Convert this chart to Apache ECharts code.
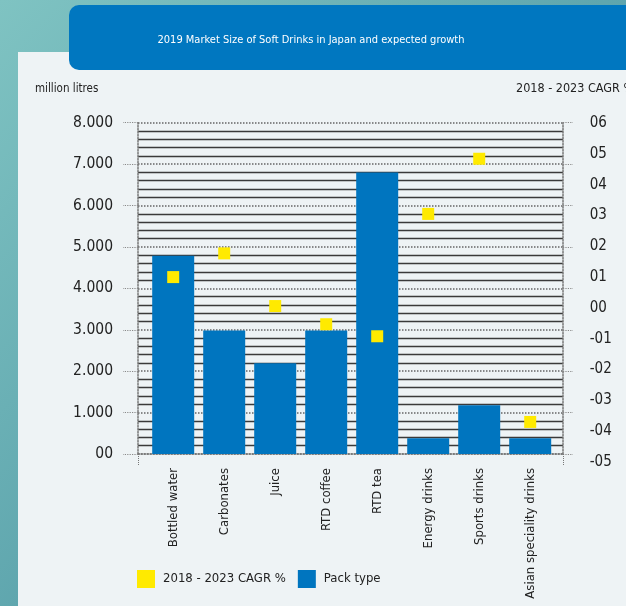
<!DOCTYPE html>
<html><head><meta charset="utf-8">
<script src="https://cdn.jsdelivr.net/npm/echarts@6/dist/echarts.min.js"></script>
<style>html,body{margin:0;padding:0;background:#eef3f5}#c{width:626px;height:606px}</style>
</head><body><div id="c"></div>
<script>
const categories = ['Bottled water','Carbonates','Juice','RTD coffee','RTD tea','Energy drinks','Sports drinks','Asian speciality drinks'];
const packType = [4790, 2980, 2190, 2980, 6800, 380, 1180, 380];
const cagr = [1.0, 1.77, 0.06, -0.53, -0.92, 3.05, 4.84, -3.70];
const leftTicks = [0, 1000, 2000, 3000, 4000, 5000, 6000, 7000, 8000];
const rightTicks = [-5, -4, -3, -2, -1, 0, 1, 2, 3, 4, 5, 6];

const FONT = '"Liberation Sans Narrow","DejaVu Sans Condensed","Roboto Condensed","Liberation Sans",sans-serif';
const chart = echarts.init(document.getElementById('c'), null, {renderer:'canvas'});
const TOP = 122.7, H = 331.3;
chart.setOption({
  animation:false,
  backgroundColor:'#eef3f5',
  textStyle:{fontFamily:FONT},
  graphic:[
    {type:'rect', z:-10, shape:{x:0,y:0,width:626,height:606}, style:{fill:new echarts.graphic.LinearGradient(0,0,1,1,[{offset:0,color:'#7fc3c2'},{offset:0.5,color:'#5fa6ae'},{offset:1,color:'#4f8fa0'}])}},
    {type:'rect', z:-9, shape:{x:18,y:52,width:620,height:560}, style:{fill:'#eef3f5'}},
    {type:'rect', z:-8, shape:{x:69,y:5,width:600,height:65,r:10}, style:{fill:'#0077c0'}},
    {type:'text', z:5, x:311, y:40, style:{text:'2019 Market Size of Soft Drinks in Japan and expected growth', fill:'#ffffff', font:'11px '+FONT, align:'center', verticalAlign:'middle'}},
    {type:'text', z:5, x:35, y:89, style:{text:'million litres', fill:'#222', font:'11.5px '+FONT, verticalAlign:'middle'}},
    {type:'text', z:5, x:516, y:89, style:{text:'2018 - 2023 CAGR %', fill:'#222', font:'12.5px '+FONT, verticalAlign:'middle'}}
  ],
  legend:{
    data:['2018 - 2023 CAGR %','Pack type'], left:132, top:565, itemWidth:18, itemHeight:18, itemGap:12,
    icon:'rect', textStyle:{fontFamily:FONT, fontSize:13, color:'#222', padding:[0,0,0,3]}
  },
  grid:[
    {left:138, top:TOP, width:425, height:H, outerBoundsMode:'none', containLabel:false},
    {left:147.7, top:TOP, width:408, height:H, outerBoundsMode:'none', containLabel:false},
    {left:147.7, top:123, width:408, height:339, outerBoundsMode:'none', containLabel:false}
  ],
  xAxis:[
    {gridIndex:0, type:'value', min:0, max:1, interval:1,
     axisLine:{show:true, lineStyle:{color:'#777', type:'dotted', width:1.5}},
     axisTick:{show:true, length:12, lineStyle:{color:'#777', type:'dotted'}},
     axisLabel:{show:false}, splitLine:{show:false}},
    {gridIndex:1, type:'category', data:categories,
     axisLine:{show:false}, axisTick:{show:false},
     axisLabel:{rotate:90, margin:14, color:'#222', fontSize:13, fontFamily:FONT}},
    {gridIndex:2, type:'category', data:categories, show:false}
  ],
  yAxis:[
    {gridIndex:0, type:'value', min:leftTicks[0], max:leftTicks[leftTicks.length-1], interval:1000, position:'left',
     axisLine:{show:true, lineStyle:{color:'#777', type:'dotted', width:1.5}},
     axisTick:{show:true, length:15, lineStyle:{color:'#888', type:'dotted', width:1.2}},
     minorTick:{show:false, splitNumber:5},
     minorSplitLine:{show:true, lineStyle:{color:'#3a3a3a', width:1.3}},
     splitLine:{show:true, lineStyle:{color:'#666', type:'dotted', width:1.5}},
     axisLabel:{margin:25, color:'#222', fontSize:15.5, fontFamily:FONT,
       formatter:v => v===0 ? '00' : (v/1000)+'.000'}},
    {gridIndex:0, type:'value', min:0, max:8000, interval:1000, position:'right',
     axisLine:{show:true, lineStyle:{color:'#777', type:'dotted', width:1.5}},
     axisTick:{show:true, length:10, lineStyle:{color:'#888', type:'dotted', width:1.2}},
     axisLabel:{show:false}, splitLine:{show:false}},
    {gridIndex:1, type:'value', min:0, max:8000, show:false},
    {gridIndex:2, type:'value', min:rightTicks[0], max:rightTicks[rightTicks.length-1], interval:1, position:'right',
     axisLine:{show:false}, axisTick:{show:false}, splitLine:{show:false},
     axisLabel:{margin:34, color:'#222', fontSize:15, fontFamily:FONT,
       formatter:v => v<0 ? '-0'+(-v) : '0'+v}}
  ],
  series:[
    {name:'2018 - 2023 CAGR %', type:'scatter', xAxisIndex:2, yAxisIndex:3, data:cagr,
     symbol:'rect', symbolSize:12, itemStyle:{color:'#ffea00', opacity:1}, z:10},
    {name:'Pack type', type:'bar', xAxisIndex:1, yAxisIndex:2, data:packType,
     barWidth:42, itemStyle:{color:'#0075bf'}, z:5}
  ]
});
</script></body></html>
